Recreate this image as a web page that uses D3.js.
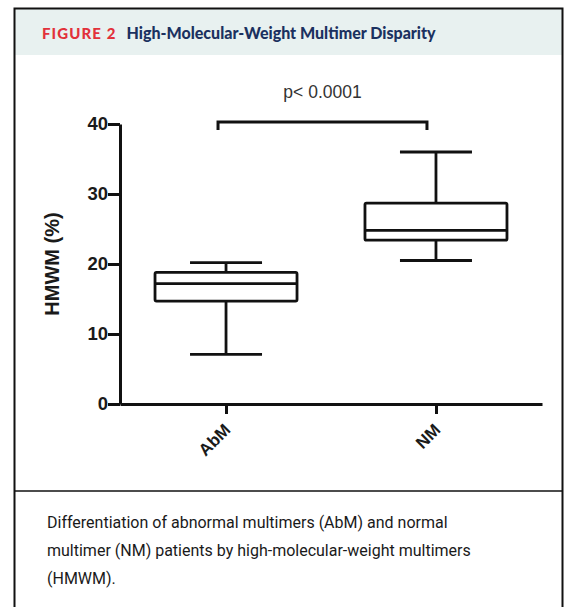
<!DOCTYPE html>
<html>
<head>
<meta charset="utf-8">
<script src="https://cdn.jsdelivr.net/npm/d3@7"></script>
<style>
  body { margin: 0; background: #fff; }
  svg { display: block; }
</style>
</head>
<body>
<svg id="fig"></svg>
<script>
/* données */
const groups = ['AbM', 'NM']
const mins = [7.1, 20.5]
const q1s = [14.7, 23.4]
const medians = [17.2, 24.8]
const q3s = [18.8, 28.7]
const maxs = [20.2, 36.0]
const yTicks = [0, 10, 20, 30, 40]
const pLabel = 'p< 0.0001'

const width = 567, height = 607
const margin = {top: 124, right: 25, bottom: 203, left: 120}

const svg = d3.select('#fig').attr('width', width).attr('height', height)

/* cadre + bandeau de titre */
svg.append('rect').attr('x', 14).attr('y', 8).attr('width', 549).attr('height', 47)
   .attr('fill', '#e8f1f0')
svg.append('path')
   .attr('d', 'M14.5,620 V8.5 H562.5 V620')
   .attr('fill', 'none').attr('stroke', '#111').attr('stroke-width', 2)
svg.append('line').attr('x1', 14).attr('x2', 563).attr('y1', 491).attr('y2', 491)
   .attr('stroke', '#111').attr('stroke-width', 1.5)

const title = svg.append('text').attr('x', 42).attr('y', 39)
   .style('font-family', 'Lato, "Open Sans", sans-serif').style('font-weight', 900).style('font-size', '16px')
title.append('tspan').attr('fill', '#e2313b').style('letter-spacing', '1.1px').style('font-size', '15px').text('FIGURE 2')
title.append('tspan').attr('dx', 10).attr('fill', '#1b3160').text('High-Molecular-Weight Multimer Disparity')

/* légende */
const caption = ['Differentiation of abnormal multimers (AbM) and normal',
                 'multimer (NM) patients by high-molecular-weight multimers',
                 '(HMWM).']
svg.append('g').selectAll('text').data(caption).enter().append('text')
   .attr('x', 47).attr('y', (d, i) => 528 + i * 28)
   .style('font-family', 'Roboto, "Noto Sans", sans-serif').style('font-size', '16px').attr('fill', '#1a1a1a')
   .text(d => d)

/* échelles */
const yScale = d3.scaleLinear().domain([0, 40]).range([404, margin.top])
const xScale = d3.scalePoint().domain(groups).range([margin.left, width - margin.right]).padding(0.505)

const axisFont = 'Arial, "Liberation Sans", sans-serif'

/* axe y */
const yAxis = svg.append('g').attr('transform', 'translate(' + margin.left + ',0)')
   .call(d3.axisLeft(yScale).tickValues(yTicks).tickSize(12).tickSizeOuter(0).tickPadding(0))
yAxis.select('.domain').attr('stroke', '#111').attr('stroke-width', 3)
yAxis.selectAll('.tick line').attr('stroke', '#111').attr('stroke-width', 3)
yAxis.selectAll('.tick text').attr('fill', '#1a1a1a')
   .style('font-family', axisFont).style('font-weight', 'bold').style('font-size', '18.5px')

/* axe x */
const xAxis = svg.append('g').attr('transform', 'translate(0,404)')
   .call(d3.axisBottom(xScale).tickSize(10).tickSizeOuter(0))
xAxis.select('.domain').attr('stroke', '#111').attr('stroke-width', 3)
xAxis.selectAll('.tick line').attr('stroke', '#111').attr('stroke-width', 3)
xAxis.selectAll('.tick text').attr('fill', '#1a1a1a')
   .style('font-family', axisFont).style('font-weight', 'bold').style('font-size', '17px')
   .attr('text-anchor', 'end').attr('x', 0).attr('y', 0).attr('dy', 0)
   .attr('transform', 'translate(5,27) rotate(-45)')

/* titre axe y */
svg.append('text').attr('transform', 'translate(59,264) rotate(-90)')
   .attr('text-anchor', 'middle').attr('fill', '#1a1a1a')
   .style('font-family', axisFont).style('font-weight', 'bold').style('font-size', '20px')
   .text('HMWM (%)')

/* boîtes */
const boxHalf = 71, capHalf = 36
const boxes = svg.append('g').selectAll('g').data(groups).enter().append('g')
   .attr('fill', 'none').attr('stroke', '#111').attr('stroke-width', 2.8)

boxes.append('line')
   .attr('x1', d => xScale(d)).attr('x2', d => xScale(d))
   .attr('y1', (d, i) => yScale(maxs[i])).attr('y2', (d, i) => yScale(q3s[i]))
boxes.append('line')
   .attr('x1', d => xScale(d)).attr('x2', d => xScale(d))
   .attr('y1', (d, i) => yScale(q1s[i])).attr('y2', (d, i) => yScale(mins[i]))
boxes.append('line')
   .attr('x1', d => xScale(d) - capHalf).attr('x2', d => xScale(d) + capHalf)
   .attr('y1', (d, i) => yScale(maxs[i])).attr('y2', (d, i) => yScale(maxs[i]))
boxes.append('line')
   .attr('x1', d => xScale(d) - capHalf).attr('x2', d => xScale(d) + capHalf)
   .attr('y1', (d, i) => yScale(mins[i])).attr('y2', (d, i) => yScale(mins[i]))
boxes.append('rect')
   .attr('x', d => xScale(d) - boxHalf).attr('width', boxHalf * 2)
   .attr('y', (d, i) => yScale(q3s[i]))
   .attr('height', (d, i) => yScale(q1s[i]) - yScale(q3s[i]))
   .attr('rx', 1.5)
boxes.append('line')
   .attr('x1', d => xScale(d) - boxHalf).attr('x2', d => xScale(d) + boxHalf)
   .attr('y1', (d, i) => yScale(medians[i])).attr('y2', (d, i) => yScale(medians[i]))

/* crochet de significativité */
const bx1 = xScale(groups[0]) - 8, bx2 = xScale(groups[1]) - 9
const by = yScale(40) - 2
svg.append('path')
   .attr('d', 'M' + bx1 + ',' + (by + 8) + ' V' + by + ' H' + bx2 + ' V' + (by + 8))
   .attr('fill', 'none').attr('stroke', '#111').attr('stroke-width', 3)
svg.append('text').attr('x', (bx1 + bx2) / 2).attr('y', 98)
   .attr('text-anchor', 'middle').attr('fill', '#333')
   .style('font-family', axisFont).style('font-size', '17.5px')
   .text(pLabel)
</script>
</body>
</html>
